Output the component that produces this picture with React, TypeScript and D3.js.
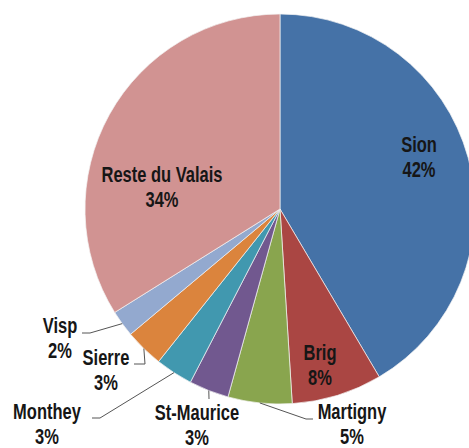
import * as d3 from "d3";

// slice shares (percent of the circle)
const categories = ["Sion", "Brig", "Martigny", "St-Maurice", "Monthey", "Sierre", "Visp", "Reste du Valais"];
const values = [41.5, 7.5, 5.3, 3.3, 3.1, 3.2, 2.2, 33.9];
const percentLabels = ["42%", "8%", "5%", "3%", "3%", "3%", "2%", "34%"];
const colors = ["#4572A7", "#AA4643", "#89A54E", "#71588F", "#4198AF", "#DB843D", "#93A9CF", "#D19392"];

const width = 469;
const height = 448;
const cx = 280;
const cy = 209;
const radius = 195;

// label anchors (text centre x, first baseline y) and optional leader line bends
const labelLayout: { x: number; y: number; leader?: [number, number][] }[] = [
    { x: 419, y: 152 },
    { x: 320, y: 360 },
    { x: 352, y: 419, leader: [[306, 419], [313, 419]] },
    { x: 197, y: 420, leader: [[209, 399]] },
    { x: 47, y: 419, leader: [[100, 418], [92, 418]] },
    { x: 106, y: 365, leader: [[145, 364], [134, 364]] },
    { x: 60, y: 333, leader: [[90, 333], [82, 333]] },
    { x: 162, y: 182 },
];

// no narrow face installed, so squeeze the regular bold one
const font = "'Liberation Sans', Arial, sans-serif";
const squeeze = 0.75;

export default function App() {
    const pie = d3.pie<number>().sort(null).value((d) => d);
    const arcs = pie(values);
    const arc = d3.arc<d3.PieArcDatum<number>>().innerRadius(0).outerRadius(radius);

    const edgePoint = (a: d3.PieArcDatum<number>): [number, number] => {
        const m = (a.startAngle + a.endAngle) / 2;
        return [Math.sin(m) * radius, -Math.cos(m) * radius];
    };

    return (
        <svg width={width} height={height} style={{ position: "absolute", left: 0, top: 0, background: "#fff" }}>
            <g transform={`translate(${cx},${cy})`}>
                {arcs.map((a, i) => (
                    <path key={i} d={arc(a) || undefined} fill={colors[i]} stroke="#f4f4f4" strokeWidth={0.7} />
                ))}
            </g>
            {/* leader lines */}
            <g fill="none" stroke="#555" strokeWidth={1}>
                {arcs.map((a, i) => {
                    const lay = labelLayout[i];
                    if (!lay.leader) return null;
                    const [ex, ey] = edgePoint(a);
                    const pts: [number, number][] = [[cx + ex, cy + ey], ...lay.leader];
                    return <path key={i} d={d3.line()(pts) || undefined} />;
                })}
            </g>
            {/* labels */}
            <g fontFamily={font} fontWeight="bold" fontSize={22} fill="#161616" textAnchor="middle">
                {categories.map((c, i) => (
                    <text key={i} transform={`translate(${labelLayout[i].x},${labelLayout[i].y}) scale(${squeeze},1)`}>
                        <tspan x={0}>{c}</tspan>
                        <tspan x={0} dy={25}>{percentLabels[i]}</tspan>
                    </text>
                ))}
            </g>
        </svg>
    );
}
